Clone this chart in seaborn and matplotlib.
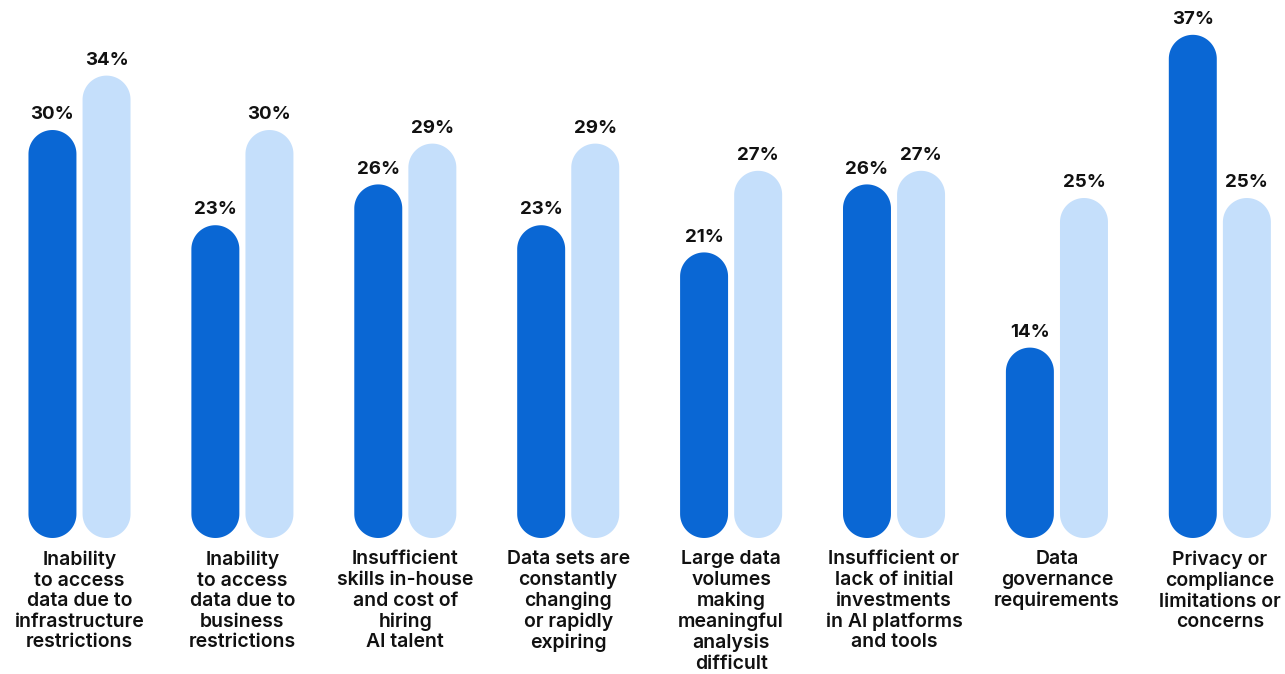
import matplotlib
matplotlib.use("Agg")
import matplotlib.pyplot as plt
from matplotlib.patches import Polygon
import numpy as np
import seaborn as sns
import pandas as pd

categories = [
    "Inability\nto access\ndata due to\ninfrastructure\nrestrictions",
    "Inability\nto access\ndata due to\nbusiness\nrestrictions",
    "Insufficient\nskills in-house\nand cost of\nhiring\nAI talent",
    "Data sets are\nconstantly\nchanging\nor rapidly\nexpiring",
    "Large data\nvolumes\nmaking\nmeaningful\nanalysis\ndifficult",
    "Insufficient or\nlack of initial\ninvestments\nin AI platforms\nand tools",
    "Data\ngovernance\nrequirements",
    "Privacy or\ncompliance\nlimitations or\nconcerns",
]
series_names = ["Series A", "Series B"]
values_a = [30, 23, 26, 23, 21, 26, 14, 37]
values_b = [34, 30, 29, 29, 27, 27, 25, 25]
colors = ["#0A67D4", "#C5DFFB"]

df = pd.DataFrame({
    "category": categories * 2,
    "series": [series_names[0]] * len(categories) + [series_names[1]] * len(categories),
    "value": values_a + values_b,
})

sns.set_theme(style="white")
plt.rcParams["font.family"] = ["Inter", "DejaVu Sans"]

W, H = 1285, 674
fig = plt.figure(figsize=(W / 100, H / 100), dpi=100)
base_px = 538
ax = fig.add_axes([0, (H - base_px) / H, 1, base_px / H])

sns.barplot(data=df, x="category", y="value", hue="series",
            hue_order=series_names, palette=colors, width=0.664, gap=0.113,
            saturation=1, ax=ax, legend=False, errorbar=None)

ax.set_xlim(-0.488, 7.40)
ax.set_ylim(0, 39.56)
fig.canvas.draw()

# pixels per x unit divided by pixels per y unit
p0 = ax.transData.transform((0, 0))
p1 = ax.transData.transform((1, 1))
aspect = (p1[0] - p0[0]) / (p1[1] - p0[1])

theta = np.linspace(0, np.pi, 60)
bars = list(ax.patches)
for bar in bars:
    x, y = bar.get_x(), bar.get_y()
    w, h = bar.get_width(), bar.get_height()
    fc = bar.get_facecolor()
    bar.remove()
    r = w / 2
    ry = r * aspect
    cx = x + r
    top = np.column_stack([cx + r * np.cos(theta), y + h - ry + ry * np.sin(theta)])
    bottom = np.column_stack([cx - r * np.cos(theta), y + ry - ry * np.sin(theta)])
    pill = Polygon(np.vstack([top, bottom]), closed=True, facecolor=fc,
                   edgecolor="none", linewidth=0)
    ax.add_patch(pill)
    ax.text(cx, y + h + 0.5, f"{h:.0f}%", ha="center", va="bottom",
            fontsize=13.5, fontweight="bold", color="#111111")

ax.set_xlabel("")
ax.set_ylabel("")
ax.set_yticks([])
ax.tick_params(axis="x", length=0, pad=9)
ax.set_xticks(range(len(categories)))
ax.set_xticklabels(categories, fontsize=14, fontweight="semibold",
                   color="#111111", linespacing=1.18, ha="center",
                   multialignment="center")
sns.despine(ax=ax, left=True, bottom=True)

fig.savefig("out.png", dpi=100)
